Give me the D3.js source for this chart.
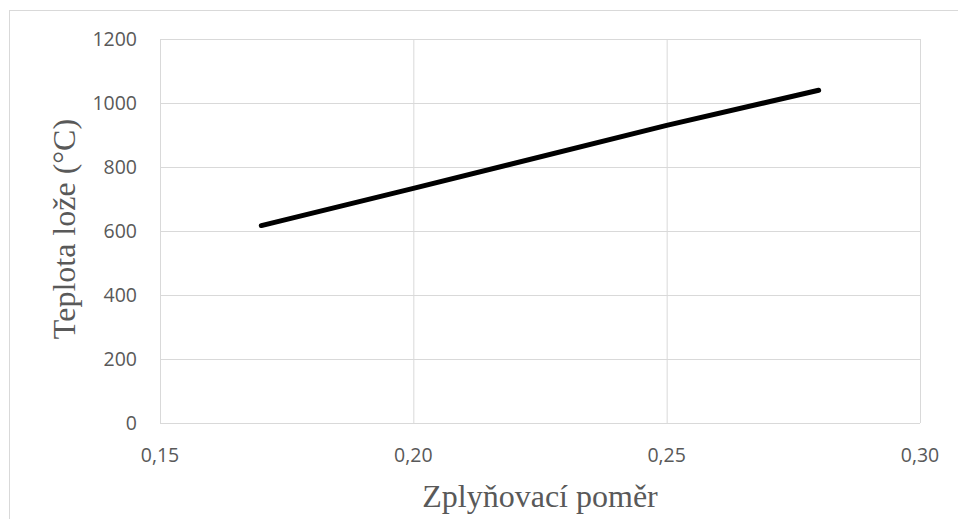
<!DOCTYPE html>
<html>
<head>
<meta charset="utf-8">
<script src="https://cdn.jsdelivr.net/npm/d3@7"></script>
<style>
  body { margin: 0; background: #fff; }
  .grid line { stroke: #d9d9d9; stroke-width: 1; }
  .grid path { display: none; }
  .tick-label { font-family: "Open Sans", sans-serif; font-size: 19.5px; fill: #595959; }
  .title { font-family: "Liberation Serif", "Times New Roman", serif; font-size: 32px; fill: #595959; }
</style>
</head>
<body>
<div id="chart"></div>
<script>
// data
var ratio = [0.17, 0.20, 0.25, 0.28];
var bedTemp = [617, 733, 930, 1040];
var xTicks = [0.15, 0.20, 0.25, 0.30];
var yTicks = [0, 200, 400, 600, 800, 1000, 1200];

var width = 958, height = 519;
var margin = { left: 160, right: 38, top: 39, bottom: 96 };

var svg = d3.select('#chart').append('svg')
    .attr('width', width)
    .attr('height', height);

// outer chart frame (only top and left edges are visible)
svg.append('rect')
    .attr('x', 9.5).attr('y', 10.5)
    .attr('width', 1000).attr('height', 1000)
    .attr('fill', 'none')
    .attr('stroke', '#d9d9d9');

var x = d3.scaleLinear().domain([0.15, 0.30]).range([margin.left, width - margin.right]);
var y = d3.scaleLinear().domain([0, 1200]).range([height - margin.bottom, margin.top]);

var fmt = function (d) { return d3.format('.2f')(d).replace('.', ','); };

// gridlines
svg.append('g')
    .attr('class', 'grid')
    .attr('transform', 'translate(0,' + (height - margin.bottom) + ')')
    .call(d3.axisBottom(x).tickValues(xTicks).tickSize(-(height - margin.top - margin.bottom)).tickFormat(''));

svg.append('g')
    .attr('class', 'grid')
    .attr('transform', 'translate(' + margin.left + ',0)')
    .call(d3.axisLeft(y).tickValues(yTicks).tickSize(-(width - margin.left - margin.right)).tickFormat(''));

// tick labels
svg.append('g').selectAll('text')
    .data(xTicks)
    .join('text')
    .attr('class', 'tick-label')
    .attr('x', function (d) { return x(d); })
    .attr('y', height - margin.bottom + 39)
    .attr('text-anchor', 'middle')
    .text(fmt);

svg.append('g').selectAll('text')
    .data(yTicks)
    .join('text')
    .attr('class', 'tick-label')
    .attr('x', margin.left - 23)
    .attr('y', function (d) { return y(d); })
    .attr('dy', '0.36em')
    .attr('text-anchor', 'end')
    .text(function (d) { return d; });

// axis titles
svg.append('text')
    .attr('class', 'title')
    .attr('x', 540)
    .attr('y', 507)
    .attr('text-anchor', 'middle')
    .text('Zplyňovací poměr');

svg.append('text')
    .attr('class', 'title')
    .attr('transform', 'translate(75,229) rotate(-90)')
    .attr('text-anchor', 'middle')
    .text('Teplota lože (°C)');

// the series
var pts = ratio.map(function (r, i) { return { r: r, t: bedTemp[i] }; });
var line = d3.line().x(function (d) { return x(d.r); }).y(function (d) { return y(d.t); });

svg.append('path')
    .datum(pts)
    .attr('d', line)
    .attr('fill', 'none')
    .attr('stroke', '#000')
    .attr('stroke-width', 5)
    .attr('stroke-linecap', 'round')
    .attr('stroke-linejoin', 'round');
</script>
</body>
</html>
